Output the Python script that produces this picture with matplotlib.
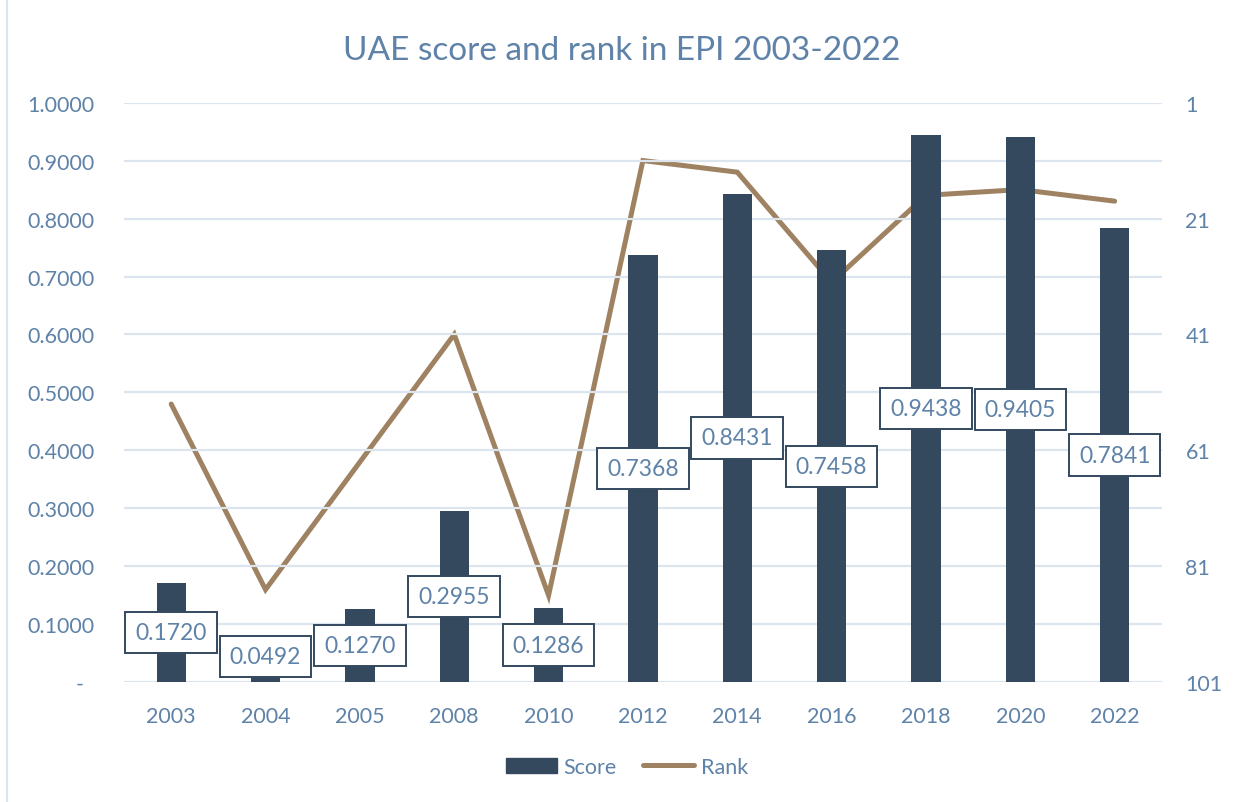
import matplotlib.pyplot as plt
from matplotlib.lines import Line2D
from matplotlib.patches import Patch

years = ['2003', '2004', '2005', '2008', '2010', '2012', '2014', '2016', '2018', '2020', '2022']
score = [0.1720, 0.0492, 0.1270, 0.2955, 0.1286, 0.7368, 0.8431, 0.7458, 0.9438, 0.9405, 0.7841]
rank = [53, 85, 63, 41, 86, 11, 13, 32, 17, 16, 18]

BAR = '#34495E'
LINE = '#9E8262'
TXT = '#5E82A8'
GRID = '#DCE4EE'

plt.rcParams['font.family'] = ['Lato', 'DejaVu Sans']

fig = plt.figure(figsize=(12.34, 8.03), dpi=100)
ax1 = fig.add_axes([0.1005, 0.149, 0.841, 0.722])
ax2 = ax1.twinx()

x = list(range(len(years)))
ax1.bar(x, score, width=0.31, color=BAR, zorder=2)
ax1.set_ylim(0, 1.0)
ax1.set_xlim(-0.5, len(years) - 0.5)
ax1.set_yticks([i / 10 for i in range(11)])
ax1.set_yticklabels(['-  '] + ['%.4f' % (i / 10) for i in range(1, 11)])
ax1.set_xticks(x)
ax1.set_xticklabels(years)
ax1.yaxis.grid(True, color=GRID, linewidth=1.6, zorder=0)
ax1.set_axisbelow(True)
ax1.tick_params(axis='both', length=0, labelsize=15.5, labelcolor=TXT)
ax1.tick_params(axis='y', pad=21)
ax1.tick_params(axis='x', pad=17)
for s in ax1.spines.values():
    s.set_visible(False)

# data labels centred in the bars, kept above the axis
for xi, v in zip(x, score):
    ax1.text(xi, max(v / 2, 0.045), '%.4f' % v, ha='center', va='center',
             fontsize=16.5, color=TXT, zorder=5,
             bbox=dict(boxstyle='square,pad=0.44', fc='white', ec=BAR, lw=1.4))

ax2.plot(x, rank, color=LINE, linewidth=3.6, solid_capstyle='round',
         solid_joinstyle='miter', zorder=3)
ax2.set_ylim(101, 1)
ax2.set_yticks([1, 21, 41, 61, 81, 101])
ax2.tick_params(axis='y', length=0, labelsize=15.5, labelcolor=TXT, pad=17)
for s in ax2.spines.values():
    s.set_visible(False)

# bars and labels drawn over the rank line
ax1.set_zorder(ax2.get_zorder() + 1)
ax1.patch.set_visible(False)

fig.suptitle('UAE score and rank in EPI 2003-2022', x=0.504, y=0.955,
             fontsize=24, color=TXT)

handles = [Patch(color=BAR), Line2D([0], [0], color=LINE, lw=3.6, solid_capstyle='round')]
fig.legend(handles, ['Score', 'Rank'], loc='center', bbox_to_anchor=(0.508, 0.044),
           ncol=2, frameon=False, fontsize=15.5, labelcolor=TXT,
           handlelength=2.4, handletextpad=0.3, columnspacing=1.2)

fig.add_artist(Line2D([0.0055, 0.0055], [0, 1], color=GRID, lw=1.5))

fig.savefig('out.png', dpi=100)
